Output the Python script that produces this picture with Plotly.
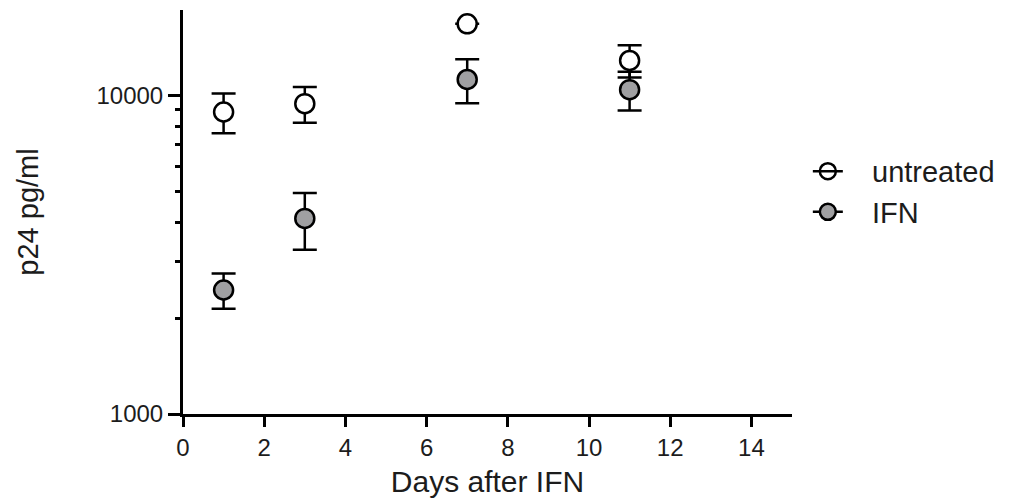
import plotly.graph_objects as go

# p24 concentration (pg/ml) over time, mean ± SEM
days = [1, 3, 7, 11]
untreated_mean = [8870, 9420, 16770, 12870]
untreated_err = [1260, 1210, 0, 1500]
ifn_mean = [2450, 4110, 11220, 10420]
ifn_err = [310, 830, 1770, 1450]

x_ticks = [0, 2, 4, 6, 8, 10, 12, 14]
y_major = [1000, 10000]
y_minor = [2000, 3000, 4000, 5000, 6000, 7000, 8000, 9000]

FONT = "Liberation Sans, Arial, sans-serif"
TXT = "#1c1c1c"
GREY = "#a0a0a2"
LW = 2.5
TW = 3
Y_RANGE = [3, 4.268]

fig = go.Figure()


def err(vals):
    return dict(type="data", array=vals, visible=True, color="black",
                thickness=LW, width=12)


# data traces (no legend entries)
fig.add_trace(go.Scatter(
    x=days, y=untreated_mean, mode="markers", showlegend=False,
    error_y=err(untreated_err),
    marker=dict(symbol="circle", size=19, color="white",
                line=dict(color="black", width=LW)),
))
fig.add_trace(go.Scatter(
    x=days, y=ifn_mean, mode="markers", showlegend=False,
    error_y=err(ifn_err),
    marker=dict(symbol="circle", size=19, color=GREY,
                line=dict(color="black", width=LW)),
))

# empty trace bound to the overlay axis carrying the minor ticks
fig.add_trace(go.Scatter(x=[None], y=[None], yaxis="y2", showlegend=False,
                         hoverinfo="skip"))

# legend keys: line through the symbol
pad = "\u00a0\u00a0\u00a0"
fig.add_trace(go.Scatter(
    x=[None], y=[None], mode="lines+markers", name=pad + "untreated",
    line=dict(color="black", width=LW),
    marker=dict(symbol="circle", size=16, color="rgba(0,0,0,0)",
                line=dict(color="black", width=LW)),
))
fig.add_trace(go.Scatter(
    x=[None], y=[None], mode="lines+markers", name=pad + "IFN",
    line=dict(color="black", width=LW),
    marker=dict(symbol="circle", size=16, color=GREY,
                line=dict(color="black", width=LW)),
))

fig.update_layout(
    width=1012, height=504, autosize=False,
    margin=dict(l=183, r=220, t=10, b=90, pad=0),
    paper_bgcolor="white", plot_bgcolor="white",
    font=dict(family=FONT, size=24, color=TXT),
    legend=dict(x=1.026, xanchor="left", y=0.55, yanchor="middle",
                font=dict(size=29, family=FONT, color=TXT),
                bgcolor="rgba(0,0,0,0)", borderwidth=0,
                itemsizing="trace"),
    yaxis2=dict(
        type="log", range=Y_RANGE, overlaying="y", side="left", anchor="x",
        showgrid=False, zeroline=False, showline=False,
        tickmode="array", tickvals=y_minor, showticklabels=False,
        ticks="outside", ticklen=7, tickwidth=TW, tickcolor="black",
    ),
)

fig.update_xaxes(
    range=[0, 15], showgrid=False, zeroline=False,
    showline=True, linecolor="black", linewidth=3,
    tickmode="array", tickvals=x_ticks,
    ticks="outside", ticklen=10, tickwidth=TW, tickcolor="black",
    tickfont=dict(size=24, family=FONT, color=TXT),
    title=dict(text="Days after IFN", font=dict(size=30, family=FONT, color=TXT),
               standoff=12),
)

fig.update_yaxes(
    selector=dict(overlaying=None),
    type="log", range=Y_RANGE, showgrid=False, zeroline=False,
    showline=True, linecolor="black", linewidth=3,
    tickmode="array", tickvals=y_major, ticktext=[str(v) for v in y_major],
    ticks="outside", ticklen=12, tickwidth=TW, tickcolor="black",
    tickfont=dict(size=24, family=FONT, color=TXT),
    title=dict(text="p24 pg/ml", font=dict(size=29, family=FONT, color=TXT),
               standoff=50),
)

fig.write_html("out.html")
